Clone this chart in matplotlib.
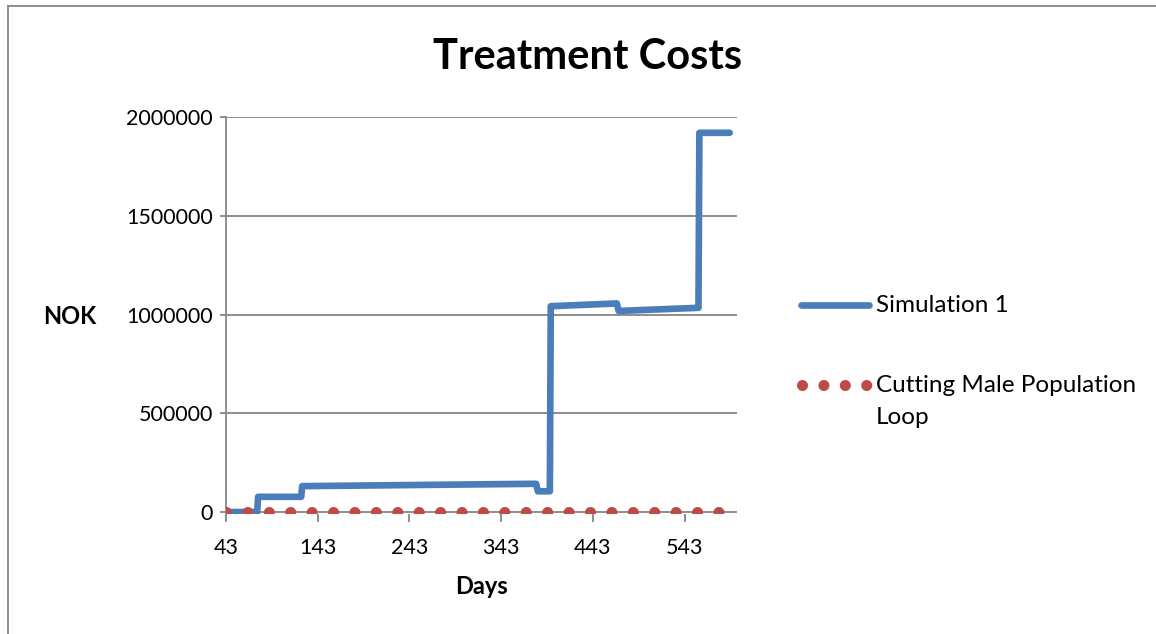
import matplotlib
matplotlib.use("Agg")
import matplotlib.pyplot as plt
from matplotlib.lines import Line2D

# data
sim_days = [43, 77, 78, 125, 126, 381, 383, 396, 397, 469, 471, 558, 559, 592]
sim_costs = [0, 0, 77000, 77000, 131000, 143000, 105000, 105000,
             1042000, 1056000, 1018000, 1034000, 1920000, 1920000]
loop_days = [43, 592]
loop_costs = [0, 0]
x_ticks = [43, 143, 243, 343, 443, 543]
y_ticks = [0, 500000, 1000000, 1500000, 2000000]

BLUE = "#4A7EBB"
RED = "#BE4B48"
GREY = "#868686"
W, H = 1156, 634

plt.rcParams['font.family'] = ['Lato', 'DejaVu Sans']

fig = plt.figure(figsize=(W / 100, H / 100), dpi=100)
ax = fig.add_axes([226 / W, (H - 514) / H, (737 - 226) / W, (514 - 117) / H])

lw_blue = 4.8
lw_dot = 8.0
dot_gap = 21.4 / (lw_dot * 100 / 72)

ax.plot(sim_days, sim_costs, color=BLUE, lw=lw_blue, solid_joinstyle='round',
        solid_capstyle='round', zorder=3)
ax.plot(loop_days, loop_costs, color=RED, lw=lw_dot, dash_capstyle='round',
        dashes=(0.001, dot_gap), zorder=4)

ax.set_xlim(43, 600)
ax.set_ylim(-10000, 2000000)
ax.set_xticks(x_ticks)
ax.set_yticks(y_ticks)
ax.set_yticklabels([str(v) for v in y_ticks])
ax.grid(axis='y', color=GREY, lw=1.3)
ax.set_axisbelow(True)
for s in ['top', 'right', 'bottom']:
    ax.spines[s].set_visible(False)
ax.spines['left'].set_color(GREY)
ax.spines['left'].set_linewidth(1.3)
ax.tick_params(axis='both', colors=GREY, labelcolor='black', labelsize=15.5, width=1.3)
ax.tick_params(axis='y', length=4.5, pad=5)
ax.tick_params(axis='x', length=6, pad=11)

ax.set_ylabel("NOK", rotation=0, fontsize=17, fontweight='bold', ha='center', va='center')
ax.yaxis.set_label_coords((70 - 226) / 511, (514 - 317) / 397)
ax.set_xlabel("Days", fontsize=17, fontweight='bold', ha='center', va='center')
ax.xaxis.set_label_coords((482 - 226) / 511, (514 - 587) / 397)

fig.text(587.5 / W, (H - 57) / H, "Treatment Costs", fontsize=30, fontweight='bold',
         ha='center', va='center')

# legend drawn by hand, Excel style
def fx(px):
    return px / W

def fy(py):
    return (H - py) / H

fig.add_artist(Line2D([fx(801), fx(869)], [fy(305), fy(305)], color=BLUE, lw=lw_blue,
                      solid_capstyle='round', transform=fig.transFigure))
fig.add_artist(Line2D([fx(802), fx(868)], [fy(385), fy(385)], color=RED, lw=lw_dot,
                      dash_capstyle='round', dashes=(0.001, dot_gap),
                      transform=fig.transFigure))
fig.text(fx(876), fy(305), "Simulation 1", fontsize=17.5, ha='left', va='center')
fig.text(fx(876), fy(385), "Cutting Male Population", fontsize=17.5, ha='left', va='center')
fig.text(fx(876), fy(418), "Loop", fontsize=17.5, ha='left', va='center')

# chart frame (partly cropped)
fig.add_artist(Line2D([fx(7.5), fx(7.5)], [0, fy(5.5)], color=GREY, lw=1.3,
                      transform=fig.transFigure))
fig.add_artist(Line2D([fx(7.5), 1], [fy(5.5), fy(5.5)], color=GREY, lw=1.3,
                      transform=fig.transFigure))

fig.savefig("out.png", dpi=100)
